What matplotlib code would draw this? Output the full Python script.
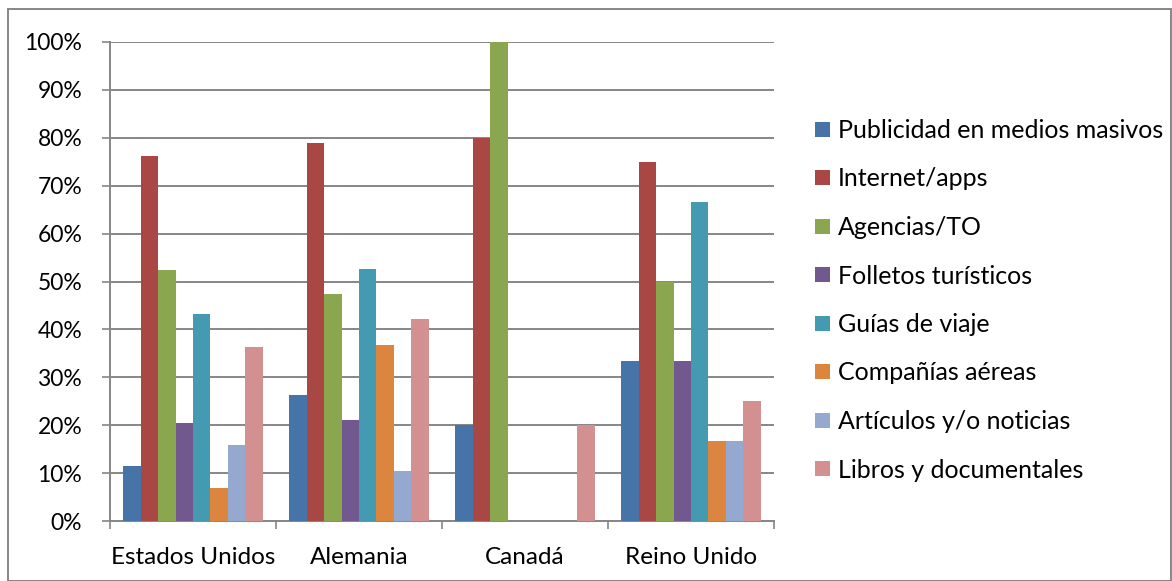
import matplotlib.pyplot as plt
import numpy as np
from matplotlib.patches import Rectangle

plt.rcParams['font.family'] = ['Lato', 'DejaVu Sans']

paises = ["Estados Unidos", "Alemania", "Canadá", "Reino Unido"]
series = ["Publicidad en medios masivos", "Internet/apps", "Agencias/TO",
          "Folletos turísticos", "Guías de viaje", "Compañías aéreas",
          "Artículos y/o noticias", "Libros y documentales"]
publicidad = [11.4, 26.3, 20.0, 33.3]
internet = [76.2, 78.9, 80.0, 75.0]
agencias = [52.3, 47.4, 100.0, 50.0]
folletos = [20.5, 21.1, 0.0, 33.3]
guias = [43.2, 52.6, 0.0, 66.7]
aereas = [6.8, 36.8, 0.0, 16.7]
articulos = [15.9, 10.5, 0.0, 16.7]
libros = [36.4, 42.1, 20.0, 25.0]
valores = [publicidad, internet, agencias, folletos, guias, aereas, articulos, libros]
colores = ["#4674A8", "#A94745", "#8AA64F", "#71598F", "#439AB1", "#DC853F", "#95A9D0", "#D29090"]

fig = plt.figure(figsize=(11.72, 5.81), dpi=100)
ax = fig.add_axes([110/1172, 1-521/581, 664/1172, 479/581])

x = np.arange(len(paises))
w = 1 / 9.5
for i, (s, v, c) in enumerate(zip(series, valores, colores)):
    ax.bar(x - 4*w + w*(i+0.5), v, width=w, color=c, label=s, zorder=3)

ax.set_xlim(-0.5, 3.5)
ax.set_ylim(0, 100)
ax.set_yticks(range(0, 101, 10))
ax.set_yticklabels([f"{t}%" for t in range(0, 101, 10)], fontsize=16.5)
ax.set_xticks(x)
ax.set_xticklabels(paises, fontsize=17.5)
ax.set_xticks(np.arange(-0.5, 4.0, 1), minor=True)
ax.tick_params(axis='x', which='major', length=0, pad=19)
ax.tick_params(axis='x', which='minor', length=6, color='#868686', width=1.2)
ax.tick_params(axis='y', length=6, color='#868686', width=1.2, pad=14)
ax.grid(axis='y', color='#868686', linewidth=1.4, zorder=0)
for sp in ['top', 'right']:
    ax.spines[sp].set_visible(False)
for sp in ['left', 'bottom']:
    ax.spines[sp].set_color('#868686')
    ax.spines[sp].set_linewidth(1.4)

fig.legend(loc='upper left', bbox_to_anchor=(815/1172, 1-119/581), frameon=False,
           fontsize=18, handlelength=0.6, handleheight=0.56, handletextpad=0.3,
           labelspacing=1.02, borderaxespad=0, borderpad=0)

fig.patches.append(Rectangle((8/1172, 0), 1-9/1172, 1-9/581, transform=fig.transFigure,
                             fill=False, edgecolor='#868686', linewidth=1.4))

fig.savefig("out.png", dpi=100)
